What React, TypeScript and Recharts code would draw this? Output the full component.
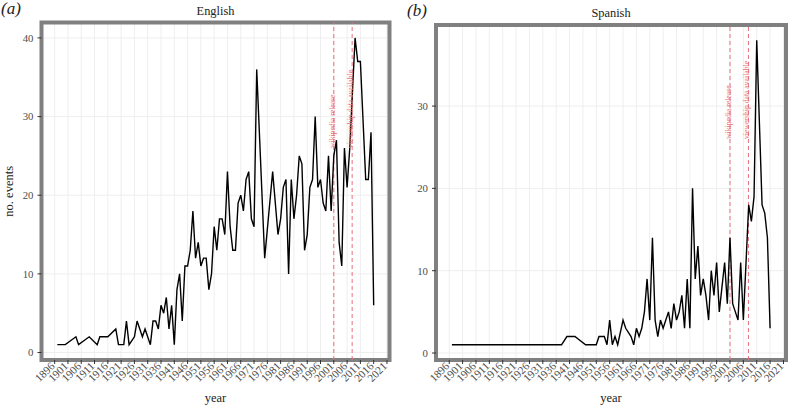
import React from "react";
import {
  LineChart,
  Line,
  XAxis,
  YAxis,
  CartesianGrid,
  ReferenceLine,
  ReferenceArea,
  ReferenceDot,
  Label,
} from "recharts";

// ---------- data ----------
const yearTicks = [
  1896, 1901, 1906, 1911, 1916, 1921, 1926, 1931, 1936, 1941, 1946, 1951, 1956,
  1961, 1966, 1971, 1976, 1981, 1986, 1991, 1996, 2001, 2006, 2011, 2016, 2021,
];

const englishYears = [
  1897, 1900, 1904, 1905, 1909, 1912, 1913, 1916, 1919, 1920, 1922, 1923, 1924,
  1926, 1927, 1929, 1930, 1932, 1933, 1934, 1935, 1936, 1937, 1938, 1939, 1940,
  1941, 1942, 1943, 1944, 1945, 1946, 1947, 1948, 1949, 1950, 1951, 1952, 1953,
  1954, 1955, 1956, 1957, 1958, 1959, 1960, 1961, 1962, 1963, 1964, 1965, 1966,
  1967, 1968, 1969, 1970, 1971, 1972, 1975, 1978, 1980, 1981, 1982, 1983, 1984,
  1985, 1986, 1987, 1988, 1989, 1990, 1991, 1992, 1993, 1994, 1995, 1996, 1997,
  1998, 1999, 2000, 2001, 2002, 2003, 2004, 2005, 2006, 2007, 2009, 2010, 2011,
  2013, 2014, 2015, 2016,
];
const englishEvents = [
  1, 1, 2, 1, 2, 1, 2, 2, 3, 1, 1, 4, 1,
  2, 4, 2, 3, 1, 4, 4, 3, 6, 5, 7, 3, 6,
  1, 8, 10, 4, 11, 11, 13, 18, 12, 14, 11, 12, 12,
  8, 10, 16, 13, 17, 17, 15, 23, 16, 13, 13, 19, 20,
  18, 22, 23, 17, 16, 36, 12, 23, 15, 17, 21, 22, 10,
  22, 17, 20, 25, 24, 13, 15, 21, 22, 30, 21, 22, 19,
  18, 25, 18, 25, 27, 14, 11, 26, 21, 26, 40, 37, 37,
  22, 22, 28, 6,
];

const spanishYears = [
  1897, 1938, 1940, 1943, 1947, 1951, 1952, 1954, 1955, 1956, 1957, 1958, 1959,
  1961, 1962, 1964, 1965, 1966, 1967, 1968, 1969, 1970, 1971, 1972, 1973, 1974,
  1975, 1976, 1977, 1978, 1979, 1980, 1981, 1982, 1983, 1984, 1985, 1986, 1987,
  1988, 1989, 1990, 1991, 1992, 1993, 1994, 1995, 1996, 1997, 1998, 1999, 2000,
  2001, 2002, 2003, 2004, 2005, 2006, 2008, 2009, 2010, 2011, 2013, 2014, 2015,
  2016,
];
const spanishEvents = [
  1, 1, 2, 2, 1, 1, 2, 2, 1, 4, 1, 2, 1,
  4, 3, 2, 1, 3, 2, 3, 5, 9, 4, 14, 4, 2,
  4, 3, 4, 5, 3, 6, 4, 5, 7, 3, 9, 3, 20,
  9, 13, 7, 9, 7, 4, 10, 7, 11, 5, 8, 11, 6,
  14, 6, 5, 4, 11, 4, 18, 16, 19, 38, 18, 17, 14,
  3,
];

const englishYTicks = [0, 10, 20, 30, 40];
const spanishYTicks = [0, 10, 20, 30];
const markerYears = [2001, 2007.9];
const markerLabels = ["wikipedia release", "viewership data available"];
const markerLabelValue = 26;

// ---------- styling ----------
const FONT = '"Liberation Serif", "Times New Roman", "DejaVu Serif", serif';
const X_DOMAIN: [number, number] = [1891.05, 2021.95];
const ENGLISH_Y_DOMAIN: [number, number] = [-0.95, 41.95];
const SPANISH_Y_DOMAIN: [number, number] = [-0.85, 39.85];
const RED = "#e8707a";

const XTick = (props: any) => {
  const { x, y, payload } = props;
  return (
    <g transform={`translate(${x - 2},${y})`}>
      <text
        x={0}
        y={0}
        dy="0.35em"
        textAnchor="end"
        transform="rotate(-45)"
        fontSize={11.2}
        fill="#4d4d4d"
        fontFamily={FONT}
      >
        {payload.value}
      </text>
    </g>
  );
};

const XTitle = (props: any) => {
  const vb = props.viewBox;
  return (
    <text
      x={vb.x + vb.width / 2}
      y={vb.y + 42}
      textAnchor="middle"
      fontSize={12.5}
      fill="#222"
      fontFamily={FONT}
    >
      year
    </text>
  );
};

const YTitle = (props: any) => {
  const vb = props.viewBox;
  const cx = 13;
  const cy = vb.y + vb.height / 2;
  return (
    <text
      x={cx}
      y={cy}
      transform={`rotate(-90 ${cx} ${cy})`}
      textAnchor="middle"
      fontSize={12.5}
      fill="#222"
      fontFamily={FONT}
    >
      no. events
    </text>
  );
};

const makeMarkerLabel = (text: string) => (props: any) => {
  const vb = props.viewBox || {};
  const cx = (vb.x || 0) + (vb.width || 0) / 2;
  const cy = (vb.y || 0) + (vb.height || 0) / 2;
  return (
    <text
      x={cx}
      y={cy}
      dy={1}
      transform={`rotate(-90 ${cx} ${cy})`}
      textAnchor="start"
      fontSize={7.7}
      fill={RED}
      fontFamily={FONT}
    >
      {text}
    </text>
  );
};

type PanelProps = {
  years: number[];
  events: number[];
  yTicks: number[];
  yDomain: [number, number];
  width: number;
  top: number;
  right: number;
  yAxisWidth: number;
  showYTitle: boolean;
};

function Panel(p: PanelProps) {
  const data = p.years.map((yr, i) => ({ year: yr, events: p.events[i] }));
  return (
    <LineChart
      width={p.width}
      height={409}
      data={data}
      margin={{ top: p.top, right: p.right, bottom: 0, left: 0 }}
    >
      <CartesianGrid stroke="#eeeeee" strokeWidth={1} />
      <XAxis
        dataKey="year"
        type="number"
        domain={X_DOMAIN}
        ticks={yearTicks}
        interval={0}
        allowDataOverflow
        tick={<XTick />}
        tickSize={4}
        tickMargin={0}
        axisLine={false}
        tickLine={{ stroke: "#333" }}
        height={49}
      >
        <Label content={XTitle} />
      </XAxis>
      <YAxis
        type="number"
        domain={p.yDomain}
        ticks={p.yTicks}
        interval={0}
        allowDataOverflow
        width={p.yAxisWidth}
        tickSize={4}
        tickMargin={4}
        axisLine={false}
        tickLine={{ stroke: "#333" }}
        tick={{ fill: "#4d4d4d", fontSize: 10.8, fontFamily: FONT }}
      >
        {p.showYTitle ? <Label content={YTitle} /> : null}
      </YAxis>
      {markerYears.map((m) => (
        <ReferenceLine
          key={"l" + m}
          x={m}
          stroke={RED}
          strokeWidth={1}
          strokeDasharray="4 3"
        />
      ))}
      <Line
        type="linear"
        dataKey="events"
        stroke="#000"
        strokeWidth={1.4}
        dot={false}
        isAnimationActive={false}
      />
      {markerYears.map((m, i) => (
        <ReferenceDot
          key={"d" + m}
          x={m}
          y={markerLabelValue}
          r={1}
          fill="none"
          stroke="none"
          label={makeMarkerLabel(markerLabels[i])}
        />
      ))}
      <ReferenceArea
        x1={X_DOMAIN[0]}
        x2={X_DOMAIN[1]}
        y1={p.yDomain[0]}
        y2={p.yDomain[1]}
        fill="none"
        stroke="#808080"
        strokeWidth={4}
        ifOverflow="visible"
      />
    </LineChart>
  );
}

export default function App() {
  return (
    <div
      style={{
        position: "absolute",
        left: 0,
        top: 0,
        width: 789,
        height: 409,
        background: "#fff",
      }}
    >
      <div style={{ position: "absolute", left: 0, top: 0 }}>
        <Panel
          years={englishYears}
          events={englishEvents}
          yTicks={englishYTicks}
          yDomain={ENGLISH_Y_DOMAIN}
          width={394}
          top={22.6}
          right={4.5}
          yAxisWidth={41.5}
          showYTitle={true}
        />
      </div>
      <div style={{ position: "absolute", left: 394, top: 0 }}>
        <Panel
          years={spanishYears}
          events={spanishEvents}
          yTicks={spanishYTicks}
          yDomain={SPANISH_Y_DOMAIN}
          width={395}
          top={25}
          right={3}
          yAxisWidth={42}
          showYTitle={false}
        />
      </div>
      <svg
        width={789}
        height={409}
        style={{ position: "absolute", left: 0, top: 0, pointerEvents: "none" }}
      >
        <text x={1} y={14} fontSize={17} fontStyle="italic" fontFamily={FONT} fill="#222">
          (a)
        </text>
        <text x={215.5} y={15} fontSize={12.4} textAnchor="middle" fontFamily={FONT} fill="#222">
          English
        </text>
        <text x={407} y={16} fontSize={17} fontStyle="italic" fontFamily={FONT} fill="#222">
          (b)
        </text>
        <text x={611} y={17} fontSize={12.4} textAnchor="middle" fontFamily={FONT} fill="#222">
          Spanish
        </text>
      </svg>
    </div>
  );
}
